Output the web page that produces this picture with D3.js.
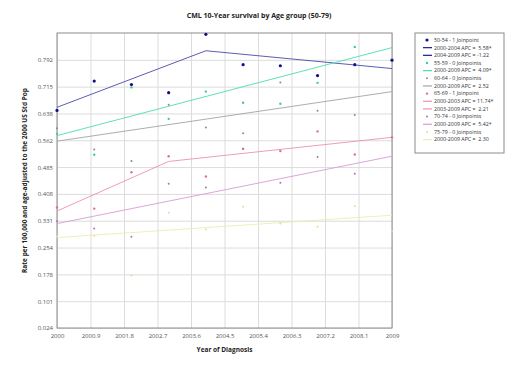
<!DOCTYPE html>
<html>
<head>
<meta charset="utf-8">
<script src="https://cdn.jsdelivr.net/npm/d3@7"></script>
<style>
  body { margin: 0; background: #fff; }
  text { font-family: "Open Sans", "DejaVu Sans", sans-serif; }
</style>
</head>
<body>
<div id="chart"></div>
<script>
// Data
var years = [2000, 2001, 2002, 2003, 2004, 2005, 2006, 2007, 2008, 2009];

var obs5054 = [0.647, 0.731, 0.721, 0.698, 0.865, 0.778, 0.775, 0.747, 0.778, 0.791];
var obs5559 = [0.580, 0.520, 0.713, 0.623, 0.701, 0.669, 0.666, 0.726, 0.829, null];
var obs6064 = [0.596, 0.535, 0.502, 0.663, 0.598, 0.582, 0.727, 0.646, 0.634, null];
var obs6569 = [0.369, 0.366, 0.470, 0.516, 0.458, 0.537, 0.531, 0.587, 0.521, 0.570];
var obs7074 = [0.330, 0.309, 0.285, 0.437, 0.426, 0.537, 0.440, 0.514, 0.466, null];
var obs7579 = [0.287, 0.288, 0.174, 0.354, 0.306, 0.371, 0.323, 0.314, 0.373, 0.300];

// Joinpoint fitted segments: [year, value] pairs
var fit5054 = [[2000, 0.656], [2004, 0.818], [2009, 0.767]];
var fit5559 = [[2000, 0.575], [2009, 0.827]];
var fit6064 = [[2000, 0.559], [2009, 0.701]];
var fit6569 = [[2000, 0.359], [2003, 0.501], [2009, 0.570]];
var fit7074 = [[2000, 0.323], [2009, 0.516]];
var fit7579 = [[2000, 0.283], [2009, 0.347]];

var xTicks = [2000, 2000.9, 2001.8, 2002.7, 2003.6, 2004.5, 2005.4, 2006.3, 2007.2, 2008.1, 2009];
var yTicks = [0.024, 0.1008, 0.1776, 0.2544, 0.3312, 0.408, 0.4848, 0.5616, 0.6384, 0.7152, 0.792];
var yTickLabels = ["0.024", "0.101", "0.178", "0.254", "0.331", "0.408", "0.485", "0.562", "0.638", "0.715", "0.792"];

var legendLabels = [
  "50-54 - 1 Joinpoint",
  "2000-2004 APC =  5.58*",
  "2004-2009 APC = -1.22",
  "55-59 - 0 Joinpoints",
  "2000-2009 APC =  4.09*",
  "60-64 - 0 Joinpoints",
  "2000-2009 APC =  2.52",
  "65-69 - 1 Joinpoint",
  "2000-2003 APC = 11.74*",
  "2003-2009 APC =  2.21",
  "70-74 - 0 Joinpoints",
  "2000-2009 APC =  5.42*",
  "75-79 - 0 Joinpoints",
  "2000-2009 APC =  2.30"
];

var series = [
  { obs: obs5054, fit: fit5054, dot: "#10108a", line: "#4a4aaa", r: 1.6 },
  { obs: obs5559, fit: fit5559, dot: "#3ccf9c", line: "#4cdcb2", r: 1.2 },
  { obs: obs6064, fit: fit6064, dot: "#8a8a8a", line: "#a4a4a4", r: 1.0 },
  { obs: obs6569, fit: fit6569, dot: "#e0708f", line: "#ea94ae", r: 1.2 },
  { obs: obs7074, fit: fit7074, dot: "#b070b8", line: "#d69cd6", r: 1.0 },
  { obs: obs7579, fit: fit7579, dot: "#e2dc98", line: "#ececb4", r: 1.0 }
];

var svgWidth = 520, svgHeight = 390;
var margin = { top: 33, left: 57, right: 128, bottom: 62 };
var width = svgWidth - margin.left - margin.right;
var height = svgHeight - margin.top - margin.bottom;

var svg = d3.select("#chart").append("svg")
  .attr("width", svgWidth)
  .attr("height", svgHeight);

var chartGroup = svg.append("g")
  .attr("transform", `translate(${margin.left}, ${margin.top})`);

var xScale = d3.scaleLinear().domain([2000, 2009]).range([0, width]);
var yScale = d3.scaleLinear().domain([0.024, 0.8688]).range([height, 0]);

// gridlines
chartGroup.append("g")
  .attr("transform", `translate(0, ${height})`)
  .call(d3.axisBottom(xScale).tickValues(xTicks).tickSize(-height).tickFormat(""))
  .call(g => g.select(".domain").remove())
  .call(g => g.selectAll("line").attr("stroke", "#dcdcdc"));

chartGroup.append("g")
  .call(d3.axisLeft(yScale).tickValues(yTicks).tickSize(-width).tickFormat(""))
  .call(g => g.select(".domain").remove())
  .call(g => g.selectAll("line").attr("stroke", "#dcdcdc"));

// plot border
chartGroup.append("rect")
  .attr("width", width).attr("height", height)
  .attr("fill", "none").attr("stroke", "#8c8c8c");

// tick labels
var xAxis = chartGroup.append("g")
  .attr("transform", `translate(0, ${height})`)
  .call(d3.axisBottom(xScale).tickValues(xTicks).tickSize(0).tickPadding(6)
    .tickFormat(d => d3.format(".1~f")(d)));
xAxis.select(".domain").remove();
xAxis.selectAll("text").attr("font-size", "6px").attr("fill", "#555");

var yAxis = chartGroup.append("g")
  .call(d3.axisLeft(yScale).tickValues(yTicks).tickSize(0).tickPadding(4)
    .tickFormat((d, i) => yTickLabels[i]));
yAxis.select(".domain").remove();
yAxis.selectAll("text").attr("font-size", "6px").attr("fill", "#555");

// fitted lines
var line = d3.line().x(d => xScale(d[0])).y(d => yScale(d[1]));
series.forEach(function(s) {
  chartGroup.append("path")
    .datum(s.fit)
    .attr("d", line)
    .attr("fill", "none")
    .attr("stroke", s.line)
    .attr("stroke-width", 0.9);
});

// observed points
series.forEach(function(s) {
  chartGroup.selectAll(null)
    .data(years.map((y, i) => [y, s.obs[i]]).filter(d => d[1] !== null))
    .enter()
    .append("circle")
    .attr("cx", d => xScale(d[0]))
    .attr("cy", d => yScale(d[1]))
    .attr("r", s.r)
    .attr("fill", s.dot);
});

// titles
svg.append("text")
  .attr("x", 259).attr("y", 18)
  .attr("text-anchor", "middle")
  .attr("font-size", "7px").attr("font-weight", "bold").attr("fill", "#222")
  .text("CML 10-Year survival by Age group (50-79)");

svg.append("text")
  .attr("transform", `translate(27, ${margin.top + height / 2}) rotate(-90)`)
  .attr("text-anchor", "middle")
  .attr("font-size", "6.5px").attr("font-weight", "bold").attr("fill", "#222")
  .text("Rate per 100,000 and age-adjusted to the 2000 US Std Pop");

svg.append("text")
  .attr("x", margin.left + width / 2).attr("y", 352)
  .attr("text-anchor", "middle")
  .attr("font-size", "6.5px").attr("font-weight", "bold").attr("fill", "#222")
  .text("Year of Diagnosis");

// legend
var legend = svg.append("g").attr("transform", "translate(415, 33)");
legend.append("rect")
  .attr("width", 89).attr("height", 120)
  .attr("fill", "#fff").attr("stroke", "#8c8c8c");

var legendRows = [
  { type: "dot", s: 0 }, { type: "line", s: 0 }, { type: "line", s: 0 },
  { type: "dot", s: 1 }, { type: "line", s: 1 },
  { type: "dot", s: 2 }, { type: "line", s: 2 },
  { type: "dot", s: 3 }, { type: "line", s: 3 }, { type: "line", s: 3 },
  { type: "dot", s: 4 }, { type: "line", s: 4 },
  { type: "dot", s: 5 }, { type: "line", s: 5 }
];

var rows = legend.selectAll("g.row")
  .data(legendRows)
  .enter().append("g")
  .attr("class", "row")
  .attr("transform", (d, i) => `translate(0, ${7 + i * 7.66})`);

rows.filter(d => d.type === "dot").append("circle")
  .attr("cx", 12).attr("cy", 0)
  .attr("r", d => series[d.s].r)
  .attr("fill", d => series[d.s].dot);

rows.filter(d => d.type === "line").append("line")
  .attr("x1", 8).attr("x2", 17).attr("y1", 0).attr("y2", 0)
  .attr("stroke", d => d.s === 0 ? "#1a1a90" : series[d.s].line)
  .attr("stroke-width", 1.2);

rows.append("text")
  .attr("x", 19).attr("y", 0).attr("dy", "0.35em")
  .attr("font-size", "5.3px").attr("fill", "#333")
  .attr("xml:space", "preserve")
  .text((d, i) => legendLabels[i]);
</script>
</body>
</html>
